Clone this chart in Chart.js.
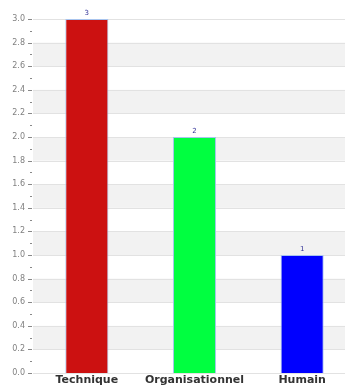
<!DOCTYPE html>
<html><head><meta charset="utf-8">
<script src="https://cdn.jsdelivr.net/npm/chart.js@4/dist/chart.umd.min.js"></script>
<style>html,body{margin:0;padding:0;background:#fff;overflow:hidden;}#wrap{width:356px;height:387px;}</style>
</head><body><div id="wrap"><canvas id="c" width="356" height="387"></canvas></div>
<script>
const categories = ["Technique", "Organisationnel", "Humain"];
const values = [3, 2, 1];
const barColors = ["#cc1111", "#00ff40", "#0000ff"];
const yTickLabels = ["0.0","0.2","0.4","0.6","0.8","1.0","1.2","1.4","1.6","1.8","2.0","2.2","2.4","2.6","2.8","3.0"];

const bandsPlugin = {
  id: 'bands',
  beforeDatasetsDraw(chart) {
    const {ctx, chartArea, scales:{y}} = chart;
    ctx.save();
    ctx.fillStyle = '#f2f2f2';
    for (let k = 0; k < 8; k++) {
      const lo = 0.2 + 0.4*k, hi = lo + 0.2;
      if (hi > 3.0001) break;
      const yt = y.getPixelForValue(hi), yb = y.getPixelForValue(lo);
      ctx.fillRect(chartArea.left, yt, chartArea.right - chartArea.left, yb - yt);
    }
    ctx.strokeStyle = '#e2e2e2';
    ctx.lineWidth = 1;
    for (let i = 0; i < yTickLabels.length; i++) {
      const py = Math.round(y.getPixelForValue(parseFloat(yTickLabels[i]))) + 0.5;
      ctx.beginPath(); ctx.moveTo(chartArea.left, py); ctx.lineTo(chartArea.right, py); ctx.stroke();
    }
    ctx.strokeStyle = '#888';
    for (let i = 0; i <= 30; i++) {
      const v = i/10;
      const py = Math.round(y.getPixelForValue(v)) + 0.5;
      const len = (i % 2 === 0) ? 4 : 2;
      ctx.beginPath(); ctx.moveTo(chartArea.left - len - 1, py); ctx.lineTo(chartArea.left - 1, py); ctx.stroke();
    }
    ctx.restore();
  },
  afterDatasetsDraw(chart) {
    const {ctx} = chart;
    const meta = chart.getDatasetMeta(0);
    ctx.save();
    ctx.fillStyle = '#333399';
    ctx.font = '7px "DejaVu Sans"';
    ctx.textAlign = 'center';
    ctx.textBaseline = 'bottom';
    meta.data.forEach((bar, i) => {
      ctx.fillText(String(values[i]), bar.x, bar.y - 2);
    });
    ctx.restore();
  }
};

new Chart(document.getElementById('c'), {
  type: 'bar',
  data: {
    labels: categories,
    datasets: [{
      data: values,
      backgroundColor: barColors,
      borderColor: '#a8c4ee',
      borderWidth: 1,
      barPercentage: 0.4,
      categoryPercentage: 1.0
    }]
  },
  options: {
    responsive: false,
    animation: false,
    events: [],
    layout: { padding: { top: 19, left: 0, right: 0, bottom: 0 } },
    plugins: { legend: { display: false }, tooltip: { enabled: false } },
    scales: {
      x: {
        grid: { display: false, drawTicks: false },
        border: { display: true, color: '#dddddd' },
        ticks: { color: '#333', padding: 1, font: { family: 'DejaVu Sans', size: 11, weight: 'bold' }, maxRotation: 0, autoSkip: false },
        afterFit(s) { s.height = 14; }
      },
      y: {
        min: 0, max: 3,
        grid: { display: false, drawTicks: false },
        border: { display: false },
        ticks: {
          stepSize: 0.2,
          color: '#808080',
          padding: 8,
          font: { family: 'DejaVu Sans', size: 8 },
          callback: (v) => yTickLabels[Math.round(v*5)]
        },
        afterFit(s) { s.width = 33; }
      }
    }
  },
  plugins: [bandsPlugin]
});
</script></body></html>
